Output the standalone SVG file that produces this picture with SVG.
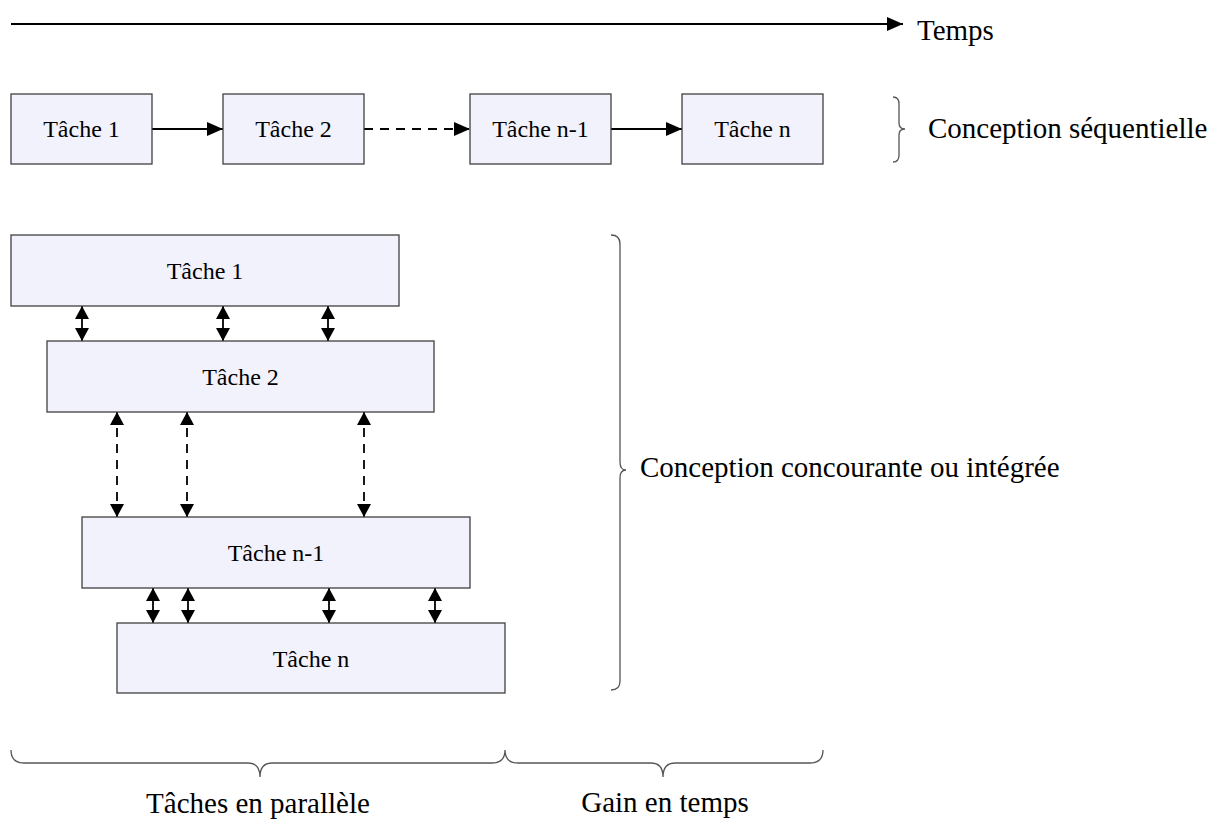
<svg xmlns="http://www.w3.org/2000/svg" width="1217" height="821" viewBox="0 0 1217 821">
<style>
.box{fill:#F2F2FC;stroke:#404040;stroke-width:1.3}
.t{font-family:"Liberation Serif","Times New Roman",serif;font-size:24px;fill:#000;text-anchor:middle}
.lbl{font-family:"Liberation Serif","Times New Roman",serif;font-size:29px;fill:#000}
.c{stroke:#000;stroke-width:1.8;fill:none}
.d{stroke-dasharray:9,7}
.br{stroke:#555;stroke-width:1.3;fill:none}
</style>
<defs>
<marker id="ah" markerWidth="16" markerHeight="14" refX="16" refY="7" orient="auto" markerUnits="userSpaceOnUse"><path d="M0,0 L16,7 L0,14 z" fill="#000"/></marker>
<marker id="sh" markerWidth="13" markerHeight="14" refX="13" refY="7" orient="auto-start-reverse" markerUnits="userSpaceOnUse"><path d="M0,0 L13,7 L0,14 z" fill="#000"/></marker>
</defs>
<g id="connectors">
<line class="c" x1="11" y1="24" x2="903" y2="24" marker-end="url(#ah)"/>
<line class="c" x1="152" y1="129" x2="223" y2="129" marker-end="url(#ah)"/>
<line class="c d" x1="364" y1="129" x2="470" y2="129" marker-end="url(#ah)"/>
<line class="c" x1="611" y1="129" x2="682" y2="129" marker-end="url(#ah)"/>
<line class="c" x1="82" y1="306" x2="82" y2="341" marker-start="url(#sh)" marker-end="url(#sh)"/>
<line class="c" x1="223" y1="306" x2="223" y2="341" marker-start="url(#sh)" marker-end="url(#sh)"/>
<line class="c" x1="328" y1="306" x2="328" y2="341" marker-start="url(#sh)" marker-end="url(#sh)"/>
<line class="c d" x1="117" y1="412" x2="117" y2="517" marker-start="url(#sh)" marker-end="url(#sh)"/>
<line class="c d" x1="187" y1="412" x2="187" y2="517" marker-start="url(#sh)" marker-end="url(#sh)"/>
<line class="c d" x1="364" y1="412" x2="364" y2="517" marker-start="url(#sh)" marker-end="url(#sh)"/>
<line class="c" x1="153" y1="588" x2="153" y2="623" marker-start="url(#sh)" marker-end="url(#sh)"/>
<line class="c" x1="188" y1="588" x2="188" y2="623" marker-start="url(#sh)" marker-end="url(#sh)"/>
<line class="c" x1="329" y1="588" x2="329" y2="623" marker-start="url(#sh)" marker-end="url(#sh)"/>
<line class="c" x1="435" y1="588" x2="435" y2="623" marker-start="url(#sh)" marker-end="url(#sh)"/>
</g>
<g id="seq1"><rect class="box" x="11" y="94" width="141" height="70"/><text class="t" x="81.5" y="137">Tâche 1</text></g>
<g id="seq2"><rect class="box" x="223" y="94" width="141" height="70"/><text class="t" x="293.5" y="137">Tâche 2</text></g>
<g id="seqn1"><rect class="box" x="470" y="94" width="141" height="70"/><text class="t" x="540.5" y="137">Tâche n-1</text></g>
<g id="seqn"><rect class="box" x="682" y="94" width="141" height="70"/><text class="t" x="752.5" y="137">Tâche n</text></g>
<g id="par1"><rect class="box" x="11" y="235" width="388" height="71"/><text class="t" x="205" y="279">Tâche 1</text></g>
<g id="par2"><rect class="box" x="47" y="341" width="387" height="71"/><text class="t" x="240.5" y="385">Tâche 2</text></g>
<g id="parn1"><rect class="box" x="82" y="517" width="388" height="71"/><text class="t" x="276" y="561">Tâche n-1</text></g>
<g id="parn"><rect class="box" x="117" y="623" width="388" height="70"/><text class="t" x="311" y="667">Tâche n</text></g>
<g id="labels">
<text class="lbl" x="917" y="40">Temps</text>
<path class="br" d="M893,97 Q899,97 899,104 L899,123 Q899,129 905,129 Q899,129 899,135 L899,155 Q899,162 893,162"/>
<text class="lbl" x="928" y="138">Conception séquentielle</text>
<path class="br" d="M611,235 Q620,235 620,244 L620,462 Q620,470 626,470 Q620,470 620,478 L620,681 Q620,690 611,690"/>
<text class="lbl" x="640" y="477">Conception concourante ou intégrée</text>
<path class="br" d="M11,750 Q11,763 24,763 L248,763 Q260,763 260,777 Q260,763 272,763 L492,763 Q505,763 505,750 Q505,763 518,763 L651,763 Q663,763 663,777 Q663,763 675,763 L810,763 Q823,763 823,750"/>
<text class="lbl" x="258" y="813" text-anchor="middle">Tâches en parallèle</text>
<text class="lbl" x="665" y="812" text-anchor="middle">Gain en temps</text>
</g>
</svg>
